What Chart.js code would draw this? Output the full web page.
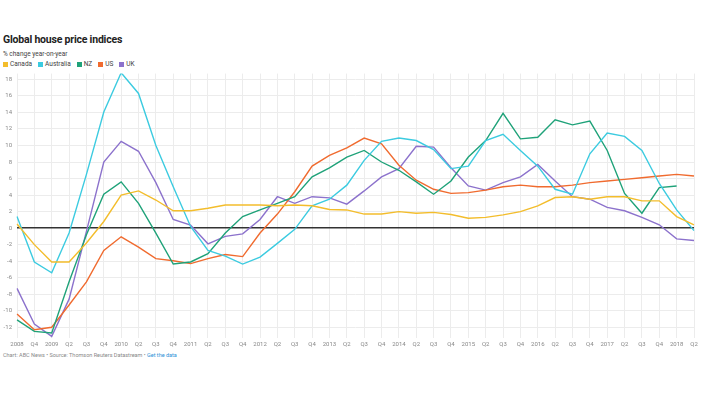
<!DOCTYPE html>
<html>
<head>
<meta charset="utf-8">
<script src="https://cdn.jsdelivr.net/npm/chart.js@4"></script>
<style>
  body { margin: 0; background: #fff; font-family: Roboto, "Noto Sans", sans-serif; }
  #wrap { position: relative; width: 704px; height: 396px; overflow: hidden; }
  #title { position: absolute; left: 3px; top: 33px; font-size: 10.5px; font-weight: 700; color: #222; letter-spacing: -0.2px; }
  #sub { position: absolute; left: 3px; top: 49.5px; font-size: 6.5px; color: #444; }
  #legend { position: absolute; left: 3px; top: 60px; font-size: 6.5px; color: #444; display: flex; }
  #legend span { display: inline-flex; align-items: center; margin-right: 6px; }
  #legend i { display: inline-block; width: 5px; height: 5px; margin-right: 2px; }
  #foot { position: absolute; left: 3px; top: 352px; font-size: 5.5px; color: #888; }
  #foot a { color: #2a8fd6; text-decoration: none; }
  canvas { position: absolute; left: 0; top: 65px; }
</style>
</head>
<body>
<div id="wrap">
  <div id="title">Global house price indices</div>
  <div id="sub">% change year-on-year</div>
  <div id="legend"></div>
  <canvas id="myChart" width="704" height="285"></canvas>
  <div id="foot">Chart: ABC News • Source: Thomson Reuters Datastream • <a>Get the data</a></div>
</div>
<script>
// quarters, 2008 Q3 to 2018 Q2
const labels = [
  '2008', 'Q4',
  '2009', 'Q2', 'Q3', 'Q4',
  '2010', 'Q2', 'Q3', 'Q4',
  '2011', 'Q2', 'Q3', 'Q4',
  '2012', 'Q2', 'Q3', 'Q4',
  '2013', 'Q2', 'Q3', 'Q4',
  '2014', 'Q2', 'Q3', 'Q4',
  '2015', 'Q2', 'Q3', 'Q4',
  '2016', 'Q2', 'Q3', 'Q4',
  '2017', 'Q2', 'Q3', 'Q4',
  '2018', 'Q2'
];

const yTicks = [-12, -10, -8, -6, -4, -2, 0, 2, 4, 6, 8, 10, 12, 14, 16, 18];

const canada = [0.5, -2.0, -4.1, -4.1, -1.8, 0.8, 4.0, 4.5, 3.4, 2.1,
  2.1, 2.4, 2.8, 2.8, 2.8, 2.7, 2.8, 2.7, 2.25, 2.2,
  1.7, 1.7, 2.0, 1.8, 1.9, 1.65, 1.2, 1.3, 1.6, 2.0,
  2.7, 3.7, 3.8, 3.5, 3.8, 3.8, 3.3, 3.3, 1.4, 0.4];

const australia = [1.4, -4.1, -5.4, -0.6, 6.5, 14.05, 18.8, 16.3, 10.0, 5.0,
  0.2, -2.7, -3.4, -4.35, -3.5, -1.85, -0.15, 2.7, 3.5, 5.2,
  8.2, 10.5, 10.9, 10.6, 9.5, 7.2, 7.5, 10.6, 11.35, 9.4,
  7.5, 4.7, 4.1, 9.0, 11.5, 11.1, 9.4, 5.4, 2.2, -0.3];

const nz = [-11.1, -12.5, -12.7, -6.5, -0.8, 4.1, 5.6, 3.0, -0.6, -4.35,
  -4.1, -3.1, -0.6, 1.4, 2.2, 3.0, 3.8, 6.2, 7.3, 8.6,
  9.4, 8.0, 7.0, 5.6, 4.1, 5.7, 8.6, 10.6, 13.9, 10.8,
  11.0, 13.1, 12.5, 12.95, 9.4, 4.2, 1.8, 4.9, 5.1, null];

const us = [-10.4, -12.3, -12.0, -9.3, -6.5, -2.7, -1.05, -2.3, -3.7, -3.95,
  -4.3, -3.7, -3.2, -3.45, -0.6, 1.7, 4.4, 7.5, 8.8, 9.7,
  10.9, 10.2, 7.6, 5.8, 4.7, 4.2, 4.3, 4.6, 5.0, 5.2,
  5.0, 5.0, 5.2, 5.5, 5.7, 5.9, 6.1, 6.3, 6.5, 6.3];

const uk = [-7.3, -11.6, -13.1, -8.6, -0.4, 8.0, 10.5, 9.3, 5.5, 1.05,
  0.36, -1.9, -1.0, -0.7, 1.05, 3.8, 3.0, 3.8, 3.66, 2.9,
  4.5, 6.2, 7.2, 9.9, 9.8, 7.3, 5.1, 4.6, 5.5, 6.2,
  7.7, 5.7, 3.8, 3.5, 2.5, 2.1, 1.3, 0.4, -1.3, -1.5];

const names = ['Canada', 'Australia', 'NZ', 'US', 'UK'];
const colors = ['#f3bd2c', '#3ccbe0', '#1fa279', '#f06b2f', '#8c72cc'];
const series = [canada, australia, nz, us, uk];

// html legend
const legend = document.getElementById('legend');
names.forEach((n, i) => {
  const s = document.createElement('span');
  s.innerHTML = '<i style="background:' + colors[i] + '"></i>' + n;
  legend.appendChild(s);
});

const data = {
  labels: labels,
  datasets: series.map((d, i) => ({
    label: names[i],
    data: d,
    borderColor: colors[i],
    backgroundColor: colors[i],
    borderWidth: 1.4,
    pointRadius: 0,
    tension: 0,
    spanGaps: false,
  }))
};

const config = {
  type: 'line',
  data: data,
  options: {
    responsive: false,
    animation: false,
    layout: { padding: { top: 3, right: 10, left: 0, bottom: 0 } },
    plugins: {
      legend: { display: false },
      tooltip: { enabled: false }
    },
    scales: {
      x: {
        offset: false,
        grid: { color: '#ececec', lineWidth: 1, drawTicks: false },
        border: { display: false },
        ticks: {
          autoSkip: false, maxRotation: 0, padding: 3,
          color: '#888', font: { family: 'Roboto', size: 6 }
        },
        afterFit: (scale) => { scale.height = 12; }
      },
      y: {
        min: -13.3,
        max: 18.7,
        afterBuildTicks: (axis) => { axis.ticks = yTicks.map(v => ({ value: v })); },
        grid: {
          drawTicks: false,
          color: (ctx) => ctx.tick && ctx.tick.value === 0 ? '#333' : '#ececec',
          lineWidth: (ctx) => ctx.tick && ctx.tick.value === 0 ? 1.4 : 1
        },
        border: { display: false },
        ticks: {
          padding: 5,
          color: '#888', font: { family: 'Roboto', size: 6 }
        },
        afterFit: (scale) => { scale.width = 17; }
      }
    }
  }
};

const myChart = new Chart(document.getElementById('myChart'), config);
</script>
</body>
</html>
